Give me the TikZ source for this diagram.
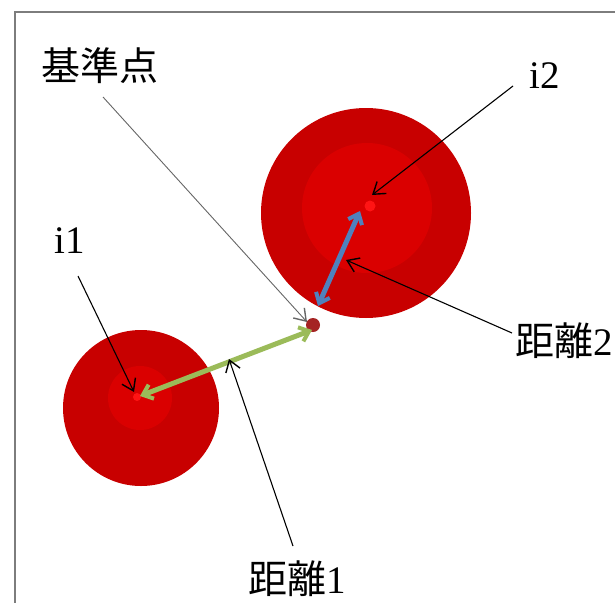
\documentclass[tikz,border=0pt]{standalone}
\usepackage{fontspec}
\setmainfont{Liberation Serif}
\newfontfamily\cjk{Noto Sans CJK JP}
\usetikzlibrary{arrows.meta}
\definecolor{outerred}{RGB}{200,0,0}
\definecolor{innerred}{RGB}{218,0,0}
\definecolor{dotred}{RGB}{255,20,20}
\definecolor{refred}{RGB}{165,35,35}
\definecolor{blueA}{RGB}{79,129,189}
\definecolor{greenA}{RGB}{155,187,89}
\definecolor{framegray}{RGB}{125,125,125}
\tikzset{
  disc/.style={circle, inner sep=0pt, draw=none, fill=#1},
  lbl/.style={inner sep=1pt, font=\fontsize{39}{40}\selectfont},
  callout/.style={black, line width=1.1pt, -{Straight Barb[length=11pt,width=15pt,line width=1.4pt]}},
  bigarrow/.style={line width=5pt, draw=#1, {Straight Barb[length=9pt,width=15pt,line width=4pt]}-{Straight Barb[length=9pt,width=15pt,line width=4pt]}}
}
\begin{document}
\begin{tikzpicture}[x=1pt,y=-1pt]
\clip (0,0) rectangle (615,602);
\fill[white] (0,0) rectangle (615,602);
\draw[framegray, line width=2.6pt] (15,12) rectangle (660,660);
% circle 2
\node[disc=outerred, minimum size=210pt] (c2) at (366,213) {};
\node[disc=innerred, minimum size=130pt] (c2in) at (367,208) {};
\node[disc=dotred, minimum size=11pt] (d2) at (370,206) {};
% circle 1
\node[disc=outerred, minimum size=156pt] (c1) at (141,408) {};
\node[disc=innerred, minimum size=64pt] (c1in) at (140,398) {};
\node[disc=dotred, minimum size=8pt] (d1) at (137,397) {};
% reference point
\node[disc=refred, minimum size=14pt] (ref) at (313,325) {};
% arrow ends
\coordinate (bA) at (318,306);
\coordinate (bB) at (360,211);
\coordinate (gA) at (140,396);
\coordinate (gB) at (312,330);
\draw[bigarrow=blueA] (bA) -- (bB);
\draw[bigarrow=greenA] (gA) -- (gB);
% labels
\node[lbl] (kijun) at (100,66) {\cjk 基準点};
\node[lbl] (i2) at (545,76) {i2};
\node[lbl] (i1) at (70,241) {i1};
\node[lbl, anchor=west] (dist2) at (514,341) {{\cjk 距離}2};
\node[lbl] (dist1) at (297,579) {{\cjk 距離}1};
% callout targets
\coordinate (tK) at (307,322);
\coordinate (tI2) at (372,195);
\coordinate (tI1) at (134,392);
\coordinate (tD2) at (346,260);
\coordinate (tD1) at (229,359);
\coordinate (sK) at (103,97);
\coordinate (sI2) at (513,86);
\coordinate (sI1) at (78,276);
\coordinate (sD2) at (512,333);
\coordinate (sD1) at (293,546);
\draw[callout, draw=gray!80!black, line width=0.9pt] (sK) -- (tK);
\draw[callout] (sI2) -- (tI2);
\draw[callout] (sI1) -- (tI1);
\draw[callout] (sD2) -- (tD2);
\draw[callout] (sD1) -- (tD1);
\end{tikzpicture}
\end{document}
